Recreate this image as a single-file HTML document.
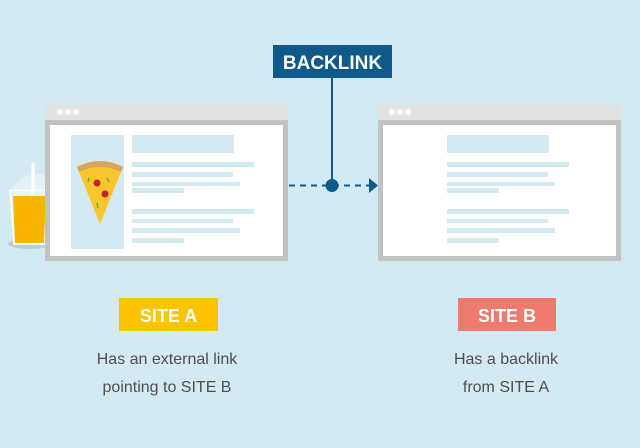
<!DOCTYPE html>
<html><head><style>
html,body{margin:0;padding:0;background:#d4eaf3;}
svg{display:block}
</style></head><body>
<svg width="640" height="448" viewBox="0 0 640 448" xmlns="http://www.w3.org/2000/svg">
<rect width="640" height="448" fill="#d4eaf3"/>
<!-- cup -->
<ellipse cx="30" cy="244" rx="22" ry="5" fill="#b9cfd8"/>
<path d="M10 190 L46 190 L44 244 L14 244 Z" fill="#e8f3f7" stroke="#ffffff" stroke-width="1.5"/>
<path d="M13 196 L46 196 L44 243 L15 243 Z" fill="#f7b500"/>
<path d="M10 190 Q28 168 46 176 L46 190 Z" fill="#e8f3f7" opacity="0.8"/>
<line x1="33" y1="163" x2="33" y2="196" stroke="#ffffff" stroke-width="3"/>
<!-- left browser -->
<rect x="45" y="105" width="243" height="16" fill="#e2e2e2"/>
<circle cx="60" cy="112" r="3" fill="#fff"/><circle cx="68" cy="112" r="3" fill="#fff"/><circle cx="76" cy="112" r="3" fill="#fff"/>
<rect x="45" y="120" width="243" height="141" fill="#c2c2c2"/>
<rect x="50" y="125" width="233" height="131" fill="#ffffff"/>
<rect x="71" y="135" width="53" height="114" fill="#d4eaf3"/>
<path d="M77 167 Q100 155 123 167 L100 224 Z" fill="#fbc52d"/>
<path d="M77 167 Q100 155 123 167 L121 172 Q100 162 79 172 Z" fill="#d9a85d"/>
<circle cx="97" cy="183" r="3.5" fill="#c0262d"/><circle cx="105" cy="194" r="3.5" fill="#c0262d"/>
<line x1="89" y1="178" x2="88" y2="182" stroke="#6aaa3a" stroke-width="1.5"/>
<line x1="107" y1="178" x2="109" y2="182" stroke="#6aaa3a" stroke-width="1.5"/>
<line x1="97" y1="203" x2="98" y2="208" stroke="#6aaa3a" stroke-width="1.5"/>
<g fill="#d4eaf3">
<rect x="132" y="135" width="102" height="18"/>
<rect x="132" y="162" width="122" height="5"/>
<rect x="132" y="172" width="101" height="5"/>
<rect x="132" y="182" width="108" height="4"/>
<rect x="132" y="188" width="52" height="5"/>
<rect x="132" y="209" width="122" height="5"/>
<rect x="132" y="219" width="101" height="4"/>
<rect x="132" y="228" width="108" height="5"/>
<rect x="132" y="238" width="52" height="5"/>
</g>
<!-- right browser -->
<rect x="378" y="105" width="243" height="16" fill="#e2e2e2"/>
<circle cx="392" cy="112" r="3" fill="#fff"/><circle cx="400" cy="112" r="3" fill="#fff"/><circle cx="408" cy="112" r="3" fill="#fff"/>
<rect x="378" y="120" width="243" height="141" fill="#c2c2c2"/>
<rect x="383" y="125" width="233" height="131" fill="#ffffff"/>
<g fill="#d4eaf3">
<rect x="447" y="135" width="102" height="18"/>
<rect x="447" y="162" width="122" height="5"/>
<rect x="447" y="172" width="101" height="5"/>
<rect x="447" y="182" width="108" height="4"/>
<rect x="447" y="188" width="52" height="5"/>
<rect x="447" y="209" width="122" height="5"/>
<rect x="447" y="219" width="101" height="4"/>
<rect x="447" y="228" width="108" height="5"/>
<rect x="447" y="238" width="52" height="5"/>
</g>
<!-- connector -->
<line x1="289" y1="185.5" x2="370" y2="185.5" stroke="#0f5a8a" stroke-width="2" stroke-dasharray="6,5"/>
<path d="M369 178 L378 185.5 L369 193 Z" fill="#0f5a8a"/>
<line x1="332" y1="78" x2="332" y2="185" stroke="#0f5a8a" stroke-width="2"/>
<circle cx="332" cy="185.5" r="6.5" fill="#0f5a8a"/>
<rect x="273" y="45" width="119" height="33" fill="#0f5a8a"/>
<text x="332.5" y="69" text-anchor="middle" font-family="Liberation Sans, sans-serif" font-weight="bold" font-size="19" fill="#fff">BACKLINK</text>
<!-- labels -->
<rect x="119" y="298" width="99" height="33" fill="#fcc300"/>
<text x="168.5" y="322" text-anchor="middle" font-family="Liberation Sans, sans-serif" font-weight="bold" font-size="18" fill="#fff">SITE A</text>
<rect x="458" y="298" width="98" height="33" fill="#f07a6e"/>
<text x="507" y="322" text-anchor="middle" font-family="Liberation Sans, sans-serif" font-weight="bold" font-size="18" fill="#fff">SITE B</text>
<g font-family="Liberation Sans, sans-serif" font-size="16" fill="#4e4e4e" text-anchor="middle">
<text x="167" y="364">Has an external link</text>
<text x="167" y="392">pointing to SITE B</text>
<text x="506" y="364">Has a backlink</text>
<text x="506" y="392">from SITE A</text>
</g>
</svg>
</body></html>
